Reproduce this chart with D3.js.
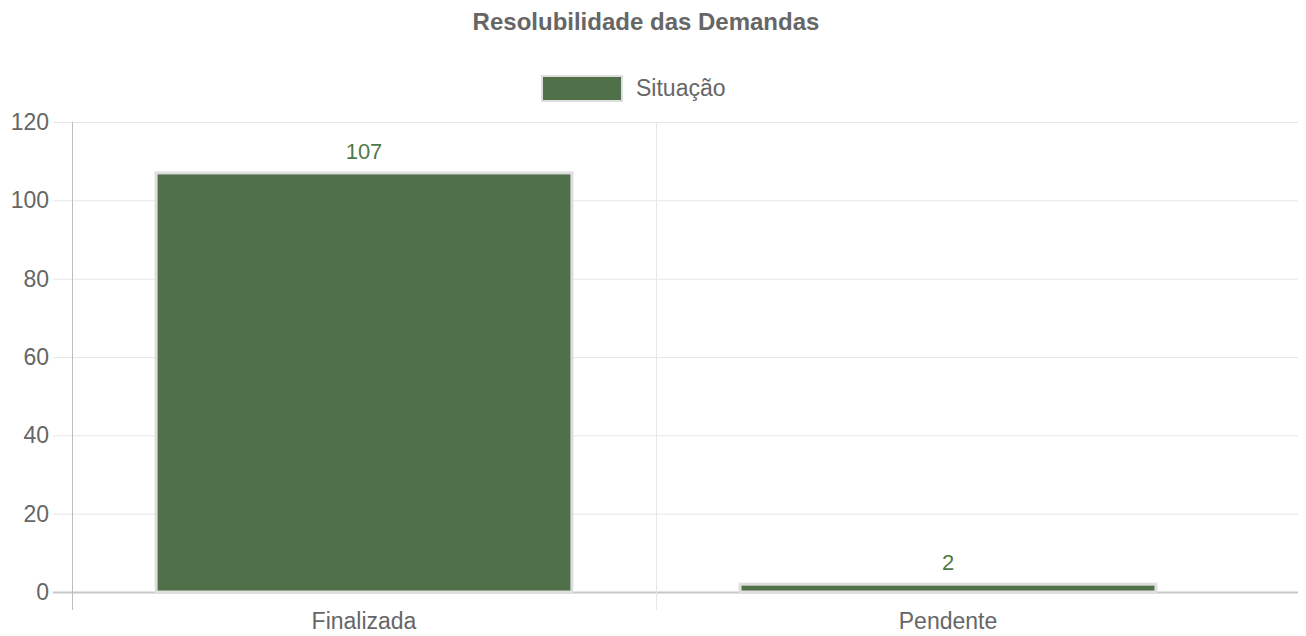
<!DOCTYPE html>
<html>
<head>
<meta charset="utf-8">
<script src="https://cdnjs.cloudflare.com/ajax/libs/d3/7.8.5/d3.min.js"></script>
<style>
  body { margin: 0; background: #fff; }
  svg text { font-family: "Liberation Sans", Arial, Helvetica, sans-serif; }
</style>
</head>
<body>
<div id="chart"></div>
<script>
// data
var categories = ["Finalizada", "Pendente"];
var values = [107, 2];
var yTicks = [0, 20, 40, 60, 80, 100, 120];
var seriesName = "Situação";
var chartTitle = "Resolubilidade das Demandas";

var W = 1306, H = 636;
var m = { left: 72, catRight: 1240, gridRight: 1298, top: 122, bottom: 592 };
var barColor = "#50704a", barBorder = "#dedede", gridColor = "#e6e6e6", textColor = "#666";

var svg = d3.select("#chart").append("svg")
    .attr("width", W).attr("height", H);

var x = d3.scaleBand().domain(categories).range([m.left, m.catRight]).paddingInner(0).paddingOuter(0);
var y = d3.scaleLinear().domain([0, 120]).range([m.bottom, m.top]);

// horizontal grid
svg.append("g").selectAll("line").data(yTicks).enter().append("line")
    .attr("x1", m.left - 19).attr("x2", m.gridRight)
    .attr("y1", function(d) { return y(d) + 0.5; })
    .attr("y2", function(d) { return y(d) + 0.5; })
    .style("stroke", function(d) { return d === 0 ? "#c8c8c8" : gridColor; })
    .style("stroke-width", function(d) { return d === 0 ? 2 : 1; });

// vertical grid (category boundaries)
var vlines = [m.left, x(categories[1])];
svg.append("g").selectAll("line").data(vlines).enter().append("line")
    .attr("x1", function(d) { return d + 0.5; })
    .attr("x2", function(d) { return d + 0.5; })
    .attr("y1", m.top).attr("y2", m.bottom + 18)
    .style("stroke", function(d, i) { return i === 0 ? "#bdbdbd" : gridColor; })
    .style("stroke-width", 1);

// y tick labels
svg.append("g").selectAll("text").data(yTicks).enter().append("text")
    .attr("x", 49).attr("y", function(d) { return y(d); })
    .attr("dy", "0.35em")
    .attr("text-anchor", "end")
    .style("font-size", "23px").style("fill", textColor)
    .text(function(d) { return d; });

// x labels
svg.append("g").selectAll("text").data(categories).enter().append("text")
    .attr("x", function(d) { return x(d) + x.bandwidth() / 2; })
    .attr("y", 629)
    .attr("text-anchor", "middle")
    .style("font-size", "23px").style("fill", textColor)
    .text(function(d) { return d; });

// bars
var bw = x.bandwidth() * 0.712;
svg.append("g").selectAll("rect").data(values).enter().append("rect")
    .attr("x", function(d, i) { return x(categories[i]) + (x.bandwidth() - bw) / 2; })
    .attr("y", function(d) { return y(d); })
    .attr("width", bw)
    .attr("height", function(d) { return m.bottom - y(d); })
    .style("fill", barColor)
    .style("stroke", barBorder)
    .style("stroke-width", 3);

// value labels
svg.append("g").selectAll("text").data(values).enter().append("text")
    .attr("x", function(d, i) { return x(categories[i]) + x.bandwidth() / 2; })
    .attr("y", function(d) { return y(d) - 14; })
    .attr("text-anchor", "middle")
    .style("font-size", "22px").style("fill", "#4e7a4a")
    .text(function(d) { return d; });

// title
svg.append("text")
    .attr("x", 646).attr("y", 30)
    .attr("text-anchor", "middle")
    .style("font-size", "24px").style("font-weight", "bold").style("fill", textColor)
    .text(chartTitle);

// legend
svg.append("rect")
    .attr("x", 542).attr("y", 76).attr("width", 80).attr("height", 25)
    .style("fill", barColor).style("stroke", barBorder).style("stroke-width", 2);
svg.append("text")
    .attr("x", 636).attr("y", 96)
    .style("font-size", "23px").style("fill", textColor)
    .text(seriesName);
</script>
</body>
</html>
